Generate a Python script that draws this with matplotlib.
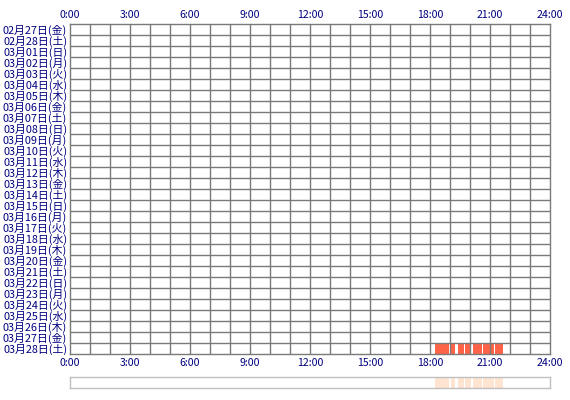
import matplotlib
matplotlib.use("Agg")
import matplotlib.pyplot as plt

plt.rcParams['font.family'] = ['Noto Sans CJK JP', 'DejaVu Sans']

# row labels, top to bottom
day_labels = [
    "02月27日(金)", "02月28日(土)", "03月01日(日)", "03月02日(月)", "03月03日(火)",
    "03月04日(水)", "03月05日(木)", "03月06日(金)", "03月07日(土)", "03月08日(日)",
    "03月09日(月)", "03月10日(火)", "03月11日(水)", "03月12日(木)", "03月13日(金)",
    "03月14日(土)", "03月15日(日)", "03月16日(月)", "03月17日(火)", "03月18日(水)",
    "03月19日(木)", "03月20日(金)", "03月21日(土)", "03月22日(日)", "03月23日(月)",
    "03月24日(火)", "03月25日(水)", "03月26日(木)", "03月27日(金)", "03月28日(土)",
]
hour_ticks = [0, 3, 6, 9, 12, 15, 18, 21, 24]
hour_labels = ["0:00", "3:00", "6:00", "9:00", "12:00", "15:00", "18:00", "21:00", "24:00"]

# active periods (day label, start "HH:MM", end "HH:MM")
session_days = ["03月28日(土)"] * 7
session_starts = ["18:15", "19:03", "19:24", "19:45", "20:09", "20:39", "21:15"]
session_ends = ["18:57", "19:15", "19:42", "20:03", "20:36", "21:12", "21:39"]


def to_hours(t):
    h, m = t.split(":")
    return int(h) + int(m) / 60.0


NAVY = "#000080"
GRID = "#7a7a7a"
RED = "#ff6347"
PEACH = "#ffe4d2"

W, H = 570, 400
fig = plt.figure(figsize=(W / 100, H / 100), dpi=100)
fig.patch.set_facecolor("white")

# main grid axes: x 70..550, y 24..354 (pixels)
ax = fig.add_axes([70 / W, (H - 354) / H, 480 / W, 330 / H])
ax.set_xlim(0, 24)
ax.set_ylim(len(day_labels), 0)

for d, s, e in zip(session_days, session_starts, session_ends):
    row = day_labels.index(d)
    x0, x1 = to_hours(s), to_hours(e)
    ax.broken_barh([(x0, x1 - x0)], (row, 1), facecolors=RED, edgecolor="none", zorder=1)

ax.vlines(range(1, 24), 0, len(day_labels), colors=GRID, linewidth=1.0, zorder=2)
ax.hlines(range(1, len(day_labels)), 0, 24, colors=GRID, linewidth=1.0, zorder=2)
for sp in ax.spines.values():
    sp.set_color(GRID)
    sp.set_linewidth(1.0)

ax.set_yticks([i + 0.5 for i in range(len(day_labels))])
ax.set_yticklabels(day_labels)
ax.set_xticks(hour_ticks)
ax.set_xticklabels(hour_labels)
ax.tick_params(axis="y", length=0, pad=2, labelsize=7.8, labelcolor=NAVY)
ax.tick_params(axis="x", length=0, pad=3, labelsize=7.6, labelcolor=NAVY,
               labeltop=True, labelbottom=True)

# overview strip: x 70..550, y 377..388
ax2 = fig.add_axes([70 / W, (H - 388) / H, 480 / W, 11 / H])
ax2.set_xlim(0, 24)
ax2.set_ylim(0, 1)
for s, e in zip(session_starts, session_ends):
    x0, x1 = to_hours(s), to_hours(e)
    ax2.broken_barh([(x0, x1 - x0)], (0, 1), facecolors=PEACH, edgecolor="none")
ax2.set_xticks([])
ax2.set_yticks([])
for sp in ax2.spines.values():
    sp.set_color("#c0c0c0")
    sp.set_linewidth(1.0)

fig.savefig("out.png", dpi=100)
